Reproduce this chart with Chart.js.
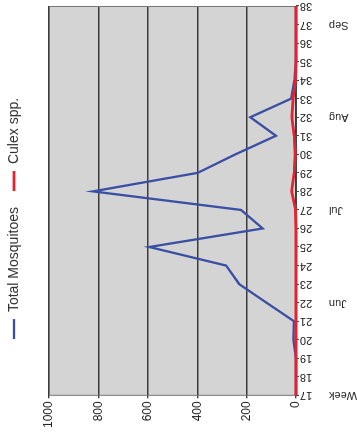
<!DOCTYPE html>
<html>
<head>
<meta charset="utf-8">
<script src="https://cdn.jsdelivr.net/npm/chart.js@4.4.1/dist/chart.umd.min.js"></script>
<style>
  html, body { margin: 0; padding: 0; background: #fff; }
  #wrap {
    position: absolute; left: 0; top: 0;
    width: 437px; height: 357px;
    transform-origin: 0 0;
    transform: translate(0, 437px) rotate(-90deg);
  }
</style>
</head>
<body>
<div id="wrap"><canvas id="chart" width="437" height="357"></canvas></div>
<script>
// weeks 17..38
const weeks = ['17', '18', '19', '20', '21', '22', '23', '24', '25', '26', '27',
  '28', '29', '30', '31', '32', '33', '34', '35', '36', '37', '38']
const monthLabels = ['Week', '', '', '', '', 'Jun', '', '', '', '', 'Jul',
  '', '', '', '', 'Aug', '', '', '', '', 'Sep', '']
const totalMosquitoes = [0, 0, 0, 11, 9, 120, 230, 283, 594, 135, 223,
  822, 398, 245, 81, 185, 20, 7, 0, 0, 0, 0]
const culexSpp = [0, 0, 0, 0, 0, 0, 0, 0, 0, 0, 2,
  18, 8, 3, 8, 17, 12, 2, 0, 0, 0, 0]
const yTicks = [0, 200, 400, 600, 800, 1000]

const plotBg = {
  id: 'plotBg',
  beforeInit(chart) {
    // extra room under the legend
    const fit = chart.legend.fit
    chart.legend.fit = function () {
      fit.call(this)
      this.height += 18
    }
  },
  beforeDraw(chart) {
    const { ctx, chartArea: a } = chart
    ctx.save()
    ctx.fillStyle = '#d4d4d4'
    ctx.fillRect(a.left, a.top, a.right - a.left, a.bottom - a.top)
    ctx.restore()
  },
  beforeDatasetsDraw(chart) {
    const { ctx, chartArea: a } = chart
    ctx.save()
    ctx.strokeStyle = '#777'
    ctx.lineWidth = 1
    ctx.beginPath()
    ctx.moveTo(a.left, a.bottom)
    ctx.lineTo(a.left, a.top + 0.5)
    ctx.lineTo(a.right - 0.5, a.top + 0.5)
    ctx.lineTo(a.right - 0.5, a.bottom)
    ctx.stroke()
    ctx.restore()
  }
}

new Chart(document.getElementById('chart'), {
  type: 'line',
  data: {
    labels: weeks,
    datasets: [
      {
        label: 'Culex spp.',
        data: culexSpp,
        borderColor: '#e3232e',
        backgroundColor: '#e3232e',
        borderWidth: 2.8,
        pointRadius: 0,
        tension: 0,
        clip: 4
      },
      {
        label: 'Total Mosquitoes',
        data: totalMosquitoes,
        borderColor: '#3a4ea3',
        backgroundColor: '#3a4ea3',
        borderWidth: 2.3,
        pointRadius: 0,
        tension: 0,
        clip: 4
      }
    ]
  },
  options: {
    responsive: false,
    animation: false,
    layout: { padding: { top: -9, right: 6, left: 6, bottom: 0 } },
    plugins: {
      tooltip: { enabled: false },
      legend: {
        position: 'top',
        labels: {
          sort: (a, b) => b.datasetIndex - a.datasetIndex,
          usePointStyle: true,
          pointStyle: 'line',
          pointStyleWidth: 20,
          padding: 16,
          color: '#333',
          font: { family: 'Liberation Sans', size: 14 }
        }
      }
    },
    scales: {
      x: {
        type: 'category',
        position: 'bottom',
        offset: false,
        afterFit: s => { s.height = 16; s.paddingRight = 0 },
        grid: { display: true, drawOnChartArea: false, drawTicks: true, tickLength: 3, color: '#444' },
        border: { display: true, color: '#444' },
        ticks: {
          autoSkip: false,
          minRotation: 90,
          maxRotation: 90,
          padding: 1,
          color: '#222',
          font: { family: 'Liberation Sans', size: 11 }
        }
      },
      x2: {
        type: 'category',
        position: 'bottom',
        labels: monthLabels,
        offset: false,
        afterFit: s => { s.height = 45; s.paddingRight = 0 },
        grid: { display: false, drawTicks: false },
        border: { display: false },
        ticks: {
          autoSkip: false,
          minRotation: 90,
          maxRotation: 90,
          padding: 17,
          color: '#222',
          font: { family: 'Liberation Sans', size: 11 }
        }
      },
      y: {
        min: 0,
        max: 1000,
        afterBuildTicks: axis => { axis.ticks = yTicks.map(v => ({ value: v })) },
        grid: { color: '#3a3a3a', lineWidth: 1.4, tickLength: 3, drawTicks: true },
        border: { display: false },
        ticks: {
          padding: 3,
          color: '#222',
          callback: v => String(v),
          font: { family: 'Liberation Sans', size: 12 }
        }
      }
    }
  },
  plugins: [plotBg]
})
</script>
</body>
</html>
